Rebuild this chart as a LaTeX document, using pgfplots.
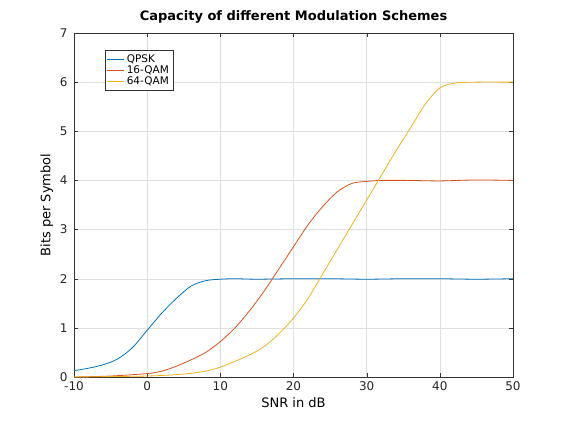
\documentclass[border=0pt]{standalone}
\usepackage{pgfplots}
\pgfplotsset{compat=1.18}
\usepackage{fontspec}
\setmainfont{DejaVu Sans}
\definecolor{c1}{rgb}{0,0.447,0.741}
\definecolor{c2}{rgb}{0.85,0.325,0.098}
\definecolor{c3}{rgb}{0.929,0.694,0.125}
\begin{document}
\begin{tikzpicture}[x=1pt,y=1pt]
\useasboundingbox (-74,-47) rectangle (494,377);
\begin{axis}[scale only axis, width=439pt, height=344pt,
 xmin=-10,xmax=50,ymin=0,ymax=7,
 xtick={-10,0,...,50}, ytick={0,...,7},
 grid=major, grid style={gray!25},
 axis line style={black!80}, tick align=inside,
 tick style={black!80}, ticklabel style={font=\fontsize{12}{14}\selectfont, text=black!85},
 yticklabel style={xshift=-3pt}, xticklabel style={yshift=-1pt},
 /pgf/number format/assume math mode=true,
 title={\bfseries Capacity of different Modulation Schemes},
 title style={font=\fontsize{13}{15}\selectfont},
 xlabel={SNR in dB}, ylabel={Bits per Symbol},
 label style={font=\fontsize{13}{15}\selectfont},
 legend style={at={(0.07,0.95)},anchor=north west, font=\fontsize{10.5}{12}\selectfont, draw=black!80, inner sep=2pt, row sep=-2pt},
 legend cell align=left, every axis plot/.append style={line width=0.8pt, smooth}]
\addplot[c1] coordinates {(-10,0.13)(-8,0.18)(-6,0.25)(-4,0.37)(-2,0.6)(0,0.95)(2,1.3)(4,1.6)(6,1.85)(8,1.96)(10,1.99)(12,2.0)(15,1.99)(20,2.0)(25,2.0)(30,1.99)(35,2.0)(40,2.0)(45,1.99)(50,2.0)};
\addplot[c2] coordinates {(-10,0.0)(-5,0.02)(0,0.07)(2,0.12)(4,0.22)(6,0.35)(8,0.5)(10,0.72)(12,1.0)(14,1.35)(16,1.75)(18,2.2)(20,2.65)(22,3.1)(24,3.47)(26,3.77)(28,3.94)(30,3.98)(32,4.0)(36,4.0)(40,3.99)(45,4.01)(50,4.0)};
\addplot[c3] coordinates {(-10,0.0)(0,0.02)(5,0.06)(8,0.12)(10,0.2)(12,0.32)(14,0.45)(16,0.62)(18,0.88)(20,1.2)(22,1.6)(24,2.1)(26,2.6)(28,3.1)(30,3.6)(32,4.1)(34,4.6)(36,5.07)(38,5.55)(40,5.88)(42,5.98)(45,6.0)(50,6.0)};
\legend{QPSK,16-QAM,64-QAM}
\end{axis}
\end{tikzpicture}
\end{document}
